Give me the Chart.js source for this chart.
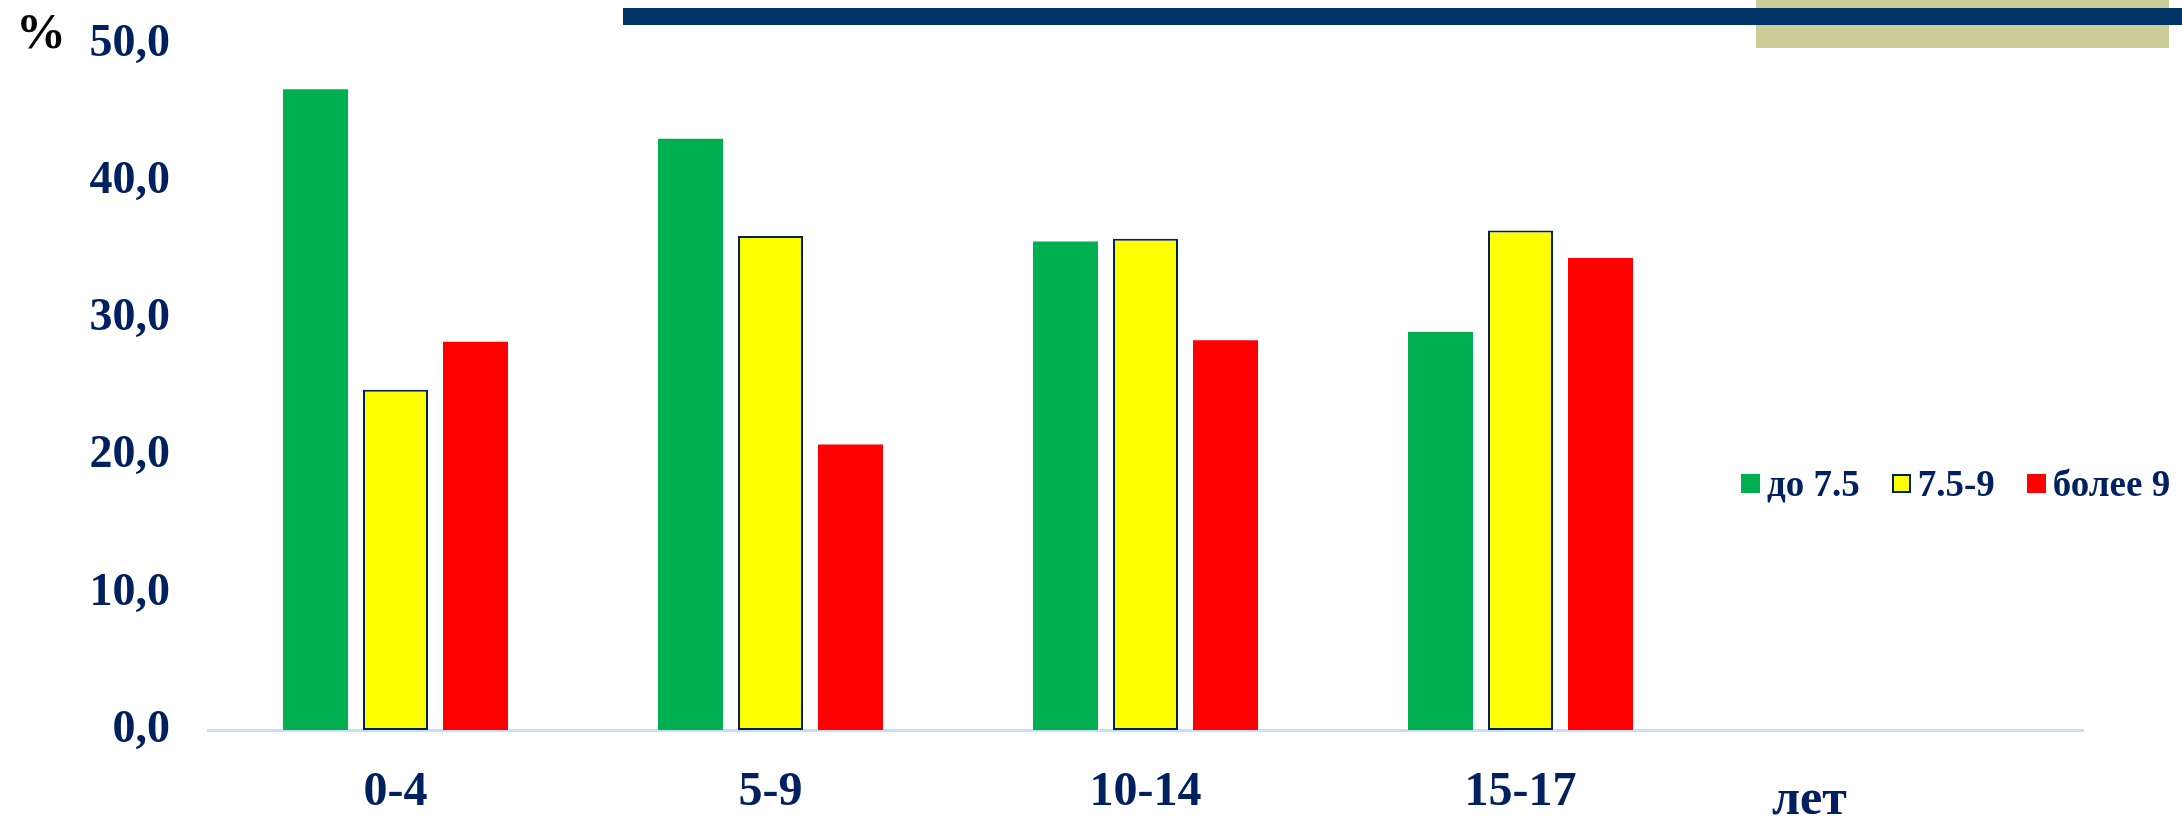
<!DOCTYPE html>
<html lang="ru">
<head>
<meta charset="utf-8">
<title>Распределение по возрастным группам</title>
<script src="https://cdn.jsdelivr.net/npm/chart.js@4/dist/chart.umd.min.js"></script>
<style>
    body { margin: 0; background: #fff; }
    #wrap { position: relative; width: 2182px; height: 819px; overflow: hidden; }
    #chart { position: absolute; left: 0; top: 0; }
    .deco { position: absolute; }
    #khaki { left: 1756px; top: 0; width: 413px; height: 48px; background: #cccc99; }
    #navy { left: 623px; top: 8px; width: 1559px; height: 17px; background: #003366; }
    .txt { position: absolute; font-family: "Liberation Serif", "Times New Roman", serif; font-weight: bold; white-space: nowrap; }
    #pct { left: 16px; top: 2px; font-size: 50px; color: #000; }
    #years { left: 1772px; top: 768px; font-size: 50px; color: #002060; }
    #legend { position: absolute; left: 1741px; top: 462px; display: flex; align-items: center; white-space: nowrap;
              font-family: "Liberation Serif", "Times New Roman", serif; font-weight: bold; font-size: 37px; color: #002060; }
    #legend .item { display: flex; align-items: center; margin-right: 32px; flex: none; }
    #legend .box { width: 19px; height: 19px; margin-right: 7px; box-sizing: border-box; flex: none; }
</style>
</head>
<body>
<div id="wrap">
    <canvas id="chart" width="2182" height="819"></canvas>
    <div class="deco" id="khaki"></div>
    <div class="deco" id="navy"></div>
    <div class="txt" id="pct">%</div>
    <div class="txt" id="years">лет</div>
    <div id="legend"></div>
</div>
<script>
// ---- data ---- //
const ageGroups = ["0-4", "5-9", "10-14", "15-17", ""];
const under75 = [46.7, 43.1, 35.6, 29.0, null];
const from75to9 = [24.8, 36.0, 35.8, 36.4, null];
const over9 = [28.3, 20.8, 28.4, 34.4, null];
const seriesNames = ["до 7.5", "7.5-9", "более 9"];

const navy = "#002060";
const serif = "'Liberation Serif', 'Times New Roman', serif";

// ---- bar chart ---- //
const ctx = document.getElementById("chart");
const chart = new Chart(ctx, {
    type: 'bar',
    data: {
        labels: ageGroups,
        datasets: [
            { label: seriesNames[0], data: under75, backgroundColor: "#00b050", borderWidth: 0 },
            { label: seriesNames[1], data: from75to9, backgroundColor: "#ffff00", borderColor: navy, borderWidth: 2, borderSkipped: false },
            { label: seriesNames[2], data: over9, backgroundColor: "#ff0000", borderWidth: 0 }
        ]
    },
    options: {
        responsive: false,
        animation: false,
        devicePixelRatio: 1,
        layout: { padding: { left: 0, right: 99, top: 44, bottom: 0 } },
        plugins: { legend: { display: false }, tooltip: { enabled: false } },
        datasets: { bar: { categoryPercentage: 0.64, barPercentage: 0.8125 } },
        scales: {
            x: {
                grid: { display: false, drawTicks: false },
                border: { display: true, color: "#c6dff7", width: 3 },
                ticks: { color: navy, padding: 34, font: { family: serif, size: 48, weight: 'bold' } },
                afterFit: s => { s.height = 89; }
            },
            y: {
                min: 0,
                max: 50,
                grid: { display: false, drawTicks: false },
                border: { display: false },
                ticks: {
                    stepSize: 10,
                    color: navy,
                    padding: 38,
                    font: { family: serif, size: 46, weight: 'bold' },
                    callback: v => v.toFixed(1).replace(".", ",")
                },
                // fixed axis width; the top label may overhang the plot area
                afterFit: s => { s.width = 208; s.paddingTop = 0; s.paddingBottom = 0; }
            }
        }
    }
});

// ---- legend built from the datasets ---- //
const legendBox = document.getElementById("legend");
chart.data.datasets.forEach(ds => {
    const item = document.createElement("div");
    item.className = "item";
    const box = document.createElement("span");
    box.className = "box";
    box.style.background = ds.backgroundColor;
    if (ds.borderWidth) box.style.border = ds.borderWidth + "px solid " + ds.borderColor;
    const label = document.createElement("span");
    label.textContent = ds.label;
    item.appendChild(box);
    item.appendChild(label);
    legendBox.appendChild(item);
});
</script>
</body>
</html>
